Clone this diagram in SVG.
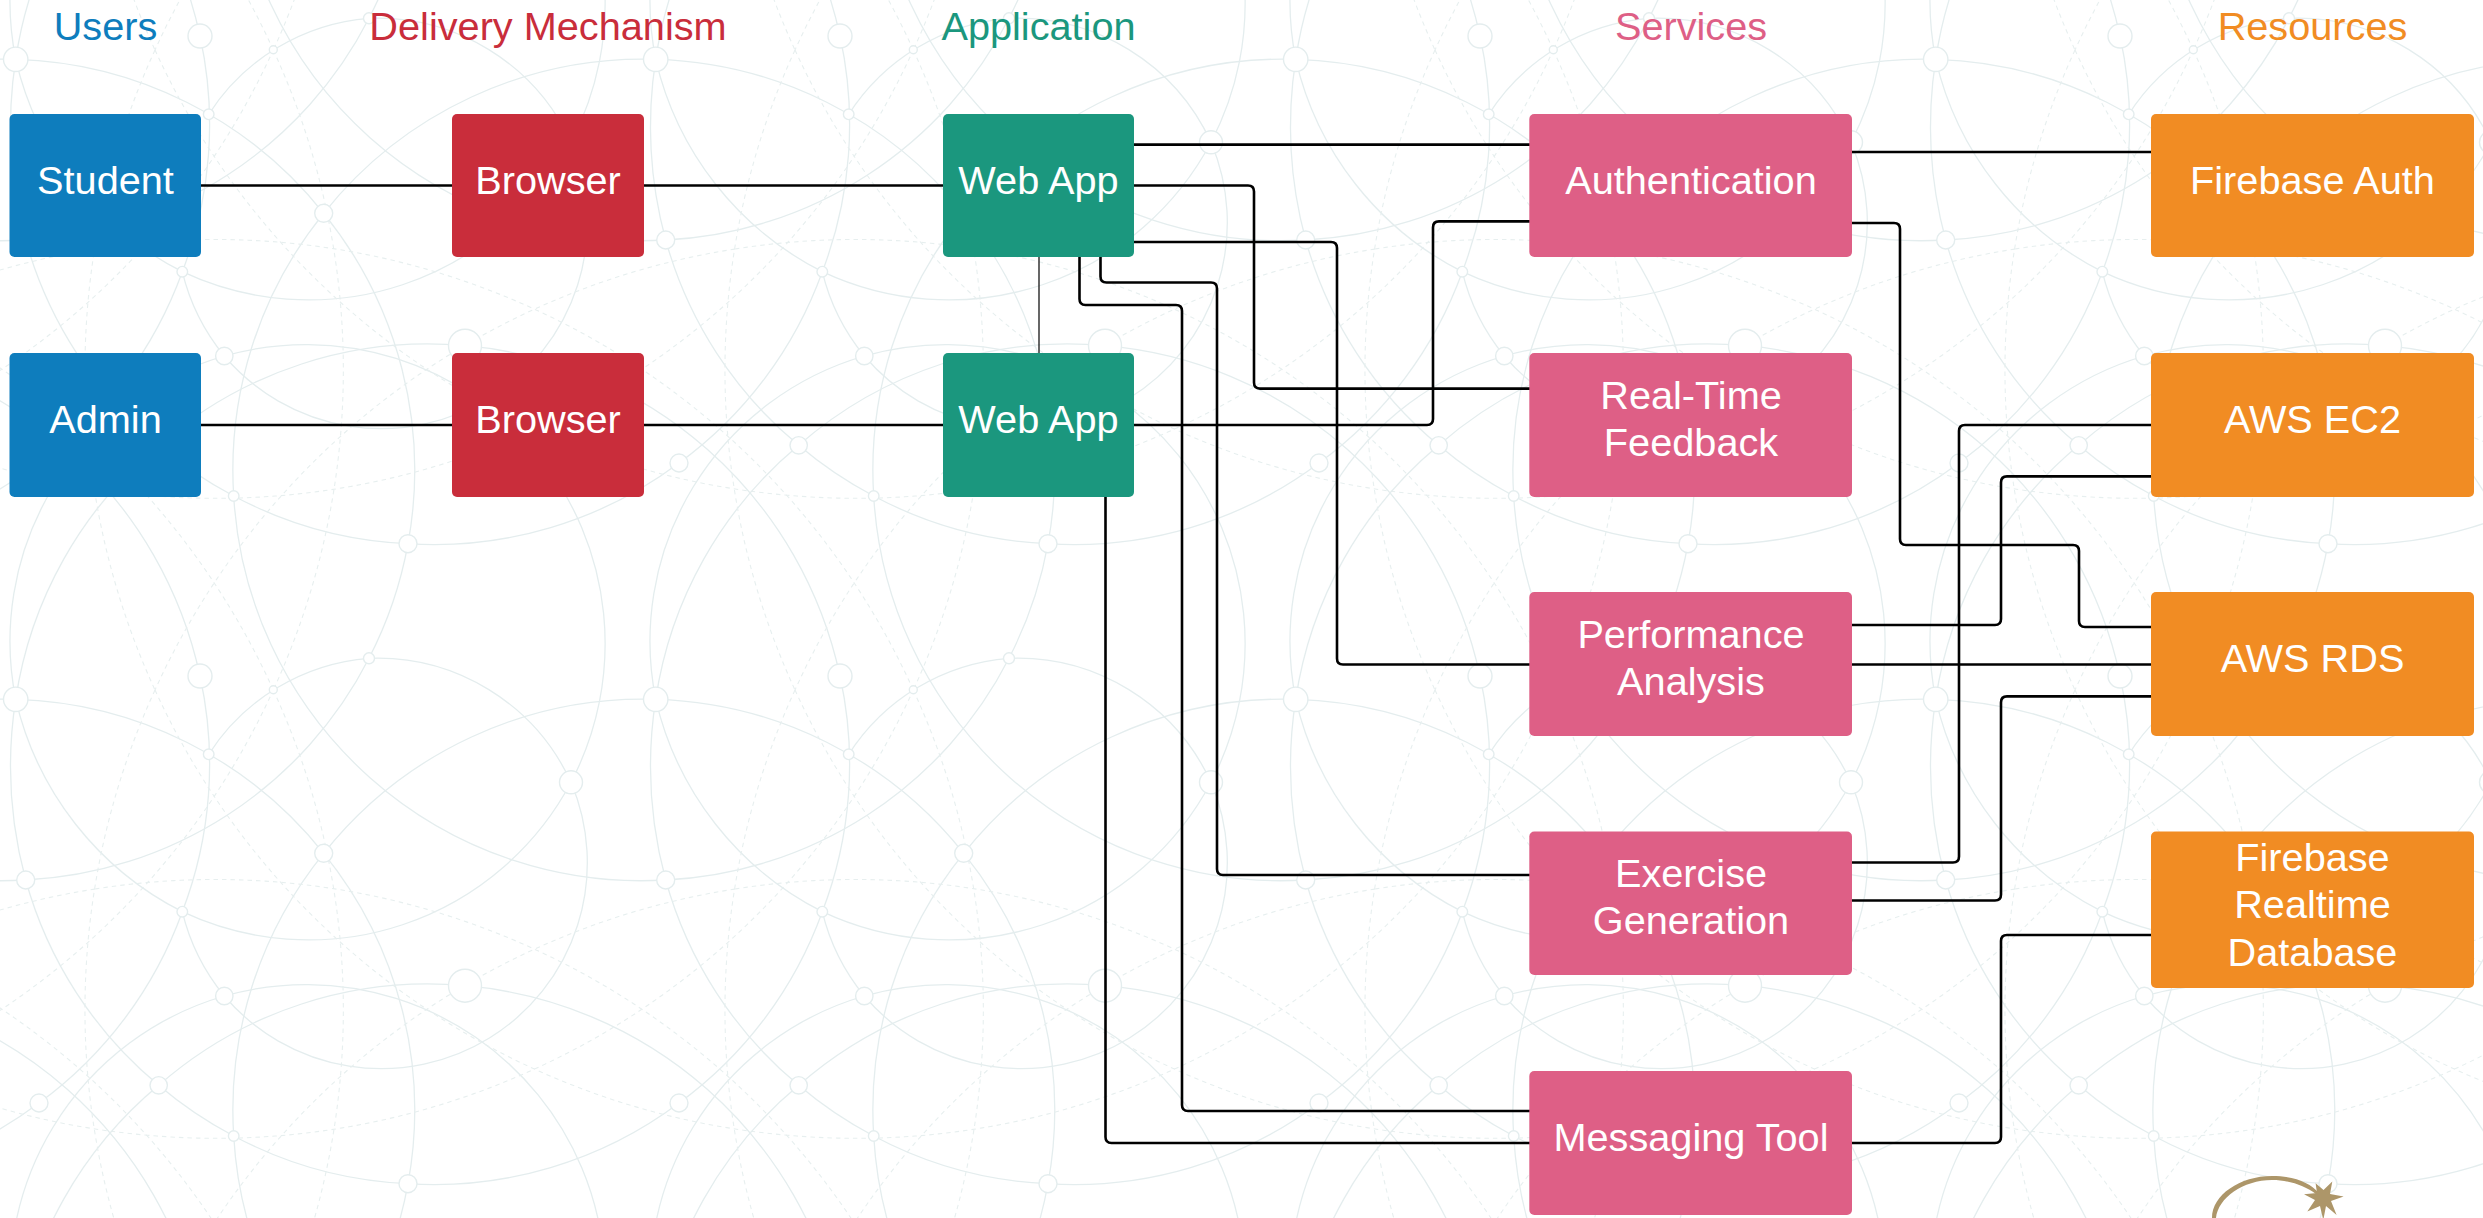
<svg xmlns="http://www.w3.org/2000/svg" xmlns:xlink="http://www.w3.org/1999/xlink" width="2483" height="1218" viewBox="0 0 2483 1218">
<style>
.bg{fill:none;stroke:#e4edee;stroke-width:1.3}
.bd{fill:none;stroke:#e7efef;stroke-width:1.1;stroke-dasharray:4.5 4}
.bn{fill:#fff;stroke:#e4edee;stroke-width:1.4}
.box{stroke:none}
.lbl{font-family:"Liberation Sans",Arial,sans-serif;font-size:39.7px;fill:#fff;text-anchor:middle}
.hdr{font-family:"Liberation Sans",Arial,sans-serif;font-size:39.7px;text-anchor:middle}
.cn{fill:none;stroke:#000;stroke-width:2.6}
.blue{fill:#0e7dbd}.red{fill:#c92d3b}.green{fill:#1b977e}.pink{fill:#de5f86}.orange{fill:#f18c23}
</style>
<defs>
<g id="tile-lines">
<path class="bg" d="M15.7,699.3A408,408 0 0 1 323.7,853.3"/>
<path class="bg" d="M15.7,699.3A436,436 0 0 0 25.7,880"/>
<path class="bg" d="M15.7,699.3A319,319 0 0 0 182.3,911.7"/>
<path class="bg" d="M182.3,911.7A297,297 0 0 0 571,782.3"/>
<path class="bg" d="M200,676A411,411 0 0 1 182.3,911.7"/>
<path class="bg" d="M208.7,754.3A210,210 0 0 1 369,658.3"/>
<path class="bg" d="M369,658.3A213,213 0 0 1 571,782.3"/>
<path class="bg" d="M369,658.3A408,408 0 0 1 25.7,880"/>
<path class="bg" d="M233.7,496A408,408 0 0 0 665.7,880"/>
<path class="bg" d="M323.7,853.3A408,408 0 0 1 655.7,699.3"/>
<path class="bg" d="M408,1183.7A408,408 0 0 0 323.7,853.3"/>
<path class="bg" d="M408,543.7A408,408 0 0 1 369,658.3"/>
<path class="bg" d="M323.7,853.3A408,408 0 0 0 233.7,1136"/>
<path class="bg" d="M233.7,1136A408,408 0 0 0 408,1183.7"/>
<path class="bg" d="M408,1183.7A408,408 0 0 0 679,1103"/>
<path class="bg" d="M39,1103A408,408 0 0 0 182.3,911.7"/>
<path class="bg" d="M25.7,880A408,408 0 0 0 158.7,1085.3"/>
<path class="bg" d="M182.3,911.7A210,210 0 0 0 224.3,996"/>
<path class="bg" d="M224.3,996A297,297 0 0 0 15.7,1339.3"/>
<path class="bg" d="M158.7,1085.3A408,408 0 0 0 15.7,1339.3"/>
<path class="bg" d="M224.3,996A299,299 0 0 1 571,1422.3"/>
<path class="bg" d="M571,782.3A206,206 0 0 1 224.3,996"/>
<path class="bg" d="M158.7,1085.3A408,408 0 0 1 465,985.7"/>
<path class="bg" d="M465,985.7A420,420 0 0 1 840,1316"/>
<path class="bg" d="M158.7,1085.3A408,408 0 0 0 233.7,1136"/>
<path class="bd" d="M155,690A766,766 0 0 0 155,1330"/>
<path class="bd" d="M273.3,690A766,766 0 0 1 273.3,1330"/>
<path class="bd" d="M95,889A766,766 0 0 1 913.3,1330"/>
<path class="bd" d="M145,1135A766,766 0 0 0 913.3,690"/>
<path class="bd" d="M155,690A766,766 0 0 0 785,1135"/>
<path class="bd" d="M735,889A766,766 0 0 0 155,1330"/>
</g>
<g id="tile-nodes">
<circle class="bn" cx="15.7" cy="699.3" r="12.2"/>
<circle class="bn" cx="200" cy="676" r="12"/>
<circle class="bn" cx="208.7" cy="754.3" r="5.3"/>
<circle class="bn" cx="273.3" cy="689.7" r="4"/>
<circle class="bn" cx="323.7" cy="853.3" r="9"/>
<circle class="bn" cx="25.7" cy="880" r="9"/>
<circle class="bn" cx="369" cy="658.3" r="5.5"/>
<circle class="bn" cx="571" cy="782.3" r="11.5"/>
<circle class="bn" cx="182.3" cy="911.7" r="5.3"/>
<circle class="bn" cx="224.3" cy="996" r="8.7"/>
<circle class="bn" cx="158.7" cy="1085.3" r="8.7"/>
<circle class="bn" cx="39" cy="1103" r="9"/>
<circle class="bn" cx="233.7" cy="1136" r="5.3"/>
<circle class="bn" cx="465" cy="985.7" r="16.5"/>
<circle class="bn" cx="408" cy="1183.7" r="9"/>
</g>
</defs>
<rect width="2483" height="1218" fill="#fff"/>
<g id="background">
<use href="#tile-lines" x="-640" y="-1280"/><use href="#tile-lines" x="0" y="-1280"/><use href="#tile-lines" x="640" y="-1280"/><use href="#tile-lines" x="1280" y="-1280"/><use href="#tile-lines" x="1920" y="-1280"/>
<use href="#tile-lines" x="-640" y="-640"/><use href="#tile-lines" x="0" y="-640"/><use href="#tile-lines" x="640" y="-640"/><use href="#tile-lines" x="1280" y="-640"/><use href="#tile-lines" x="1920" y="-640"/>
<use href="#tile-lines" x="-640" y="0"/><use href="#tile-lines" x="0" y="0"/><use href="#tile-lines" x="640" y="0"/><use href="#tile-lines" x="1280" y="0"/><use href="#tile-lines" x="1920" y="0"/>
<use href="#tile-lines" x="-640" y="640"/><use href="#tile-lines" x="0" y="640"/><use href="#tile-lines" x="640" y="640"/><use href="#tile-lines" x="1280" y="640"/><use href="#tile-lines" x="1920" y="640"/>
<use href="#tile-nodes" x="-640" y="-640"/><use href="#tile-nodes" x="0" y="-640"/><use href="#tile-nodes" x="640" y="-640"/><use href="#tile-nodes" x="1280" y="-640"/><use href="#tile-nodes" x="1920" y="-640"/>
<use href="#tile-nodes" x="0" y="0"/><use href="#tile-nodes" x="640" y="0"/><use href="#tile-nodes" x="1280" y="0"/><use href="#tile-nodes" x="1920" y="0"/>
<use href="#tile-nodes" x="0" y="-1280"/><use href="#tile-nodes" x="640" y="-1280"/><use href="#tile-nodes" x="1280" y="-1280"/><use href="#tile-nodes" x="1920" y="-1280"/>
</g>
<g id="logo" fill="#ad9669">
<path d="M2212,1218C2212,1195 2240,1176 2272,1176C2295,1176 2310,1183 2319,1193L2316,1194C2305,1186 2290,1180 2272,1180C2243,1180 2218,1198 2216,1218Z"/>
<polygon points="2315.6,1183.3 2323.5,1190 2332.3,1181.6 2330,1194 2343.6,1196.6 2331,1201 2336.6,1215 2326,1206 2323.3,1220 2320,1206 2307.3,1211.6 2315,1200 2304,1194.3 2317,1193"/>
</g>
<g id="headers">
<text class="hdr blue" x="105.5" y="40">Users</text>
<text class="hdr red" x="548" y="40">Delivery Mechanism</text>
<text class="hdr green" x="1038.5" y="40">Application</text>
<text class="hdr pink" x="1691" y="40">Services</text>
<text class="hdr orange" x="2312.5" y="40">Resources</text>
</g>
<g id="connectors">
<path class="cn" d="M201,185.5H452"/>
<path class="cn" d="M201,425H452"/>
<path class="cn" d="M644,185.5H943"/>
<path class="cn" d="M644,425H943"/>
<path class="cn" d="M1134,144.6H1530"/>
<path class="cn" d="M1134,185.5H1248Q1254,185.5 1254,191.5V382.6Q1254,388.6 1260,388.6H1530"/>
<path class="cn" d="M1134,242H1331Q1337,242 1337,248V658.5Q1337,664.5 1343,664.5H1530"/>
<path class="cn" style="stroke-width:1.2" d="M1039,257V353"/>
<path class="cn" d="M1079.5,257V299Q1079.5,305 1085.5,305H1176Q1182,305 1182,311V1105Q1182,1111 1188,1111H1530"/>
<path class="cn" d="M1100.5,257V276.5Q1100.5,282.5 1106.5,282.5H1211Q1217,282.5 1217,288.5V869Q1217,875 1223,875H1530"/>
<path class="cn" d="M1134,425H1427Q1433,425 1433,419V227.4Q1433,221.4 1439,221.4H1530"/>
<path class="cn" d="M1105.5,497V1137Q1105.5,1143 1111.5,1143H1530"/>
<path class="cn" d="M1852,152H2151"/>
<path class="cn" d="M1852,223H1894Q1900,223 1900,229V539Q1900,545 1906,545H2073Q2079,545 2079,551V621Q2079,627 2085,627H2151"/>
<path class="cn" d="M1852,625H1995Q2001,625 2001,619V482.4Q2001,476.4 2007,476.4H2151"/>
<path class="cn" d="M1852,664.5H2151"/>
<path class="cn" d="M1852,862.5H1953Q1959,862.5 1959,856.5V431Q1959,425 1965,425H2151"/>
<path class="cn" d="M1852,900.5H1995Q2001,900.5 2001,894.5V702.4Q2001,696.4 2007,696.4H2151"/>
<path class="cn" d="M1852,1143H1995Q2001,1143 2001,1137V941Q2001,935 2007,935H2151"/>
</g>
<g id="student"><rect class="box blue" x="9.5" y="114" width="191.5" height="143" rx="5"/><text class="lbl" x="105.5" y="193.5">Student</text></g>
<g id="admin"><rect class="box blue" x="9.5" y="353" width="191.5" height="144" rx="5"/><text class="lbl" x="105.5" y="432.5">Admin</text></g>
<g id="browser-student"><rect class="box red" x="452" y="114" width="192" height="143" rx="5"/><text class="lbl" x="548" y="193.5">Browser</text></g>
<g id="browser-admin"><rect class="box red" x="452" y="353" width="192" height="144" rx="5"/><text class="lbl" x="548" y="432.5">Browser</text></g>
<g id="webapp-student"><rect class="box green" x="943" y="114" width="191" height="143" rx="5"/><text class="lbl" x="1038.5" y="193.5">Web App</text></g>
<g id="webapp-admin"><rect class="box green" x="943" y="353" width="191" height="144" rx="5"/><text class="lbl" x="1038.5" y="432.5">Web App</text></g>
<g id="authentication"><rect class="box pink" x="1529.3" y="114" width="322.7" height="143" rx="5"/><text class="lbl" x="1691" y="193.5">Authentication</text></g>
<g id="realtime-feedback"><rect class="box pink" x="1529.3" y="353" width="322.7" height="144" rx="5"/><text class="lbl" x="1691" y="408.5">Real-Time</text><text class="lbl" x="1691" y="455.5">Feedback</text></g>
<g id="performance-analysis"><rect class="box pink" x="1529.3" y="592" width="322.7" height="144" rx="5"/><text class="lbl" x="1691" y="647.5">Performance</text><text class="lbl" x="1691" y="695">Analysis</text></g>
<g id="exercise-generation"><rect class="box pink" x="1529.3" y="831.5" width="322.7" height="143.5" rx="5"/><text class="lbl" x="1691" y="886.5">Exercise</text><text class="lbl" x="1691" y="934">Generation</text></g>
<g id="messaging-tool"><rect class="box pink" x="1529.3" y="1071" width="322.7" height="144" rx="5"/><text class="lbl" x="1691" y="1150.5">Messaging Tool</text></g>
<g id="firebase-auth"><rect class="box orange" x="2151" y="114" width="323" height="143" rx="5"/><text class="lbl" x="2312.5" y="193.5">Firebase Auth</text></g>
<g id="aws-ec2"><rect class="box orange" x="2151" y="353" width="323" height="144" rx="5"/><text class="lbl" x="2312.5" y="432.5">AWS EC2</text></g>
<g id="aws-rds"><rect class="box orange" x="2151" y="592" width="323" height="144" rx="5"/><text class="lbl" x="2312.5" y="671.5">AWS RDS</text></g>
<g id="firebase-realtime"><rect class="box orange" x="2151" y="831.5" width="323" height="156.5" rx="5"/><text class="lbl" x="2312.5" y="870.5">Firebase</text><text class="lbl" x="2312.5" y="918">Realtime</text><text class="lbl" x="2312.5" y="965.5">Database</text></g>
</svg>
